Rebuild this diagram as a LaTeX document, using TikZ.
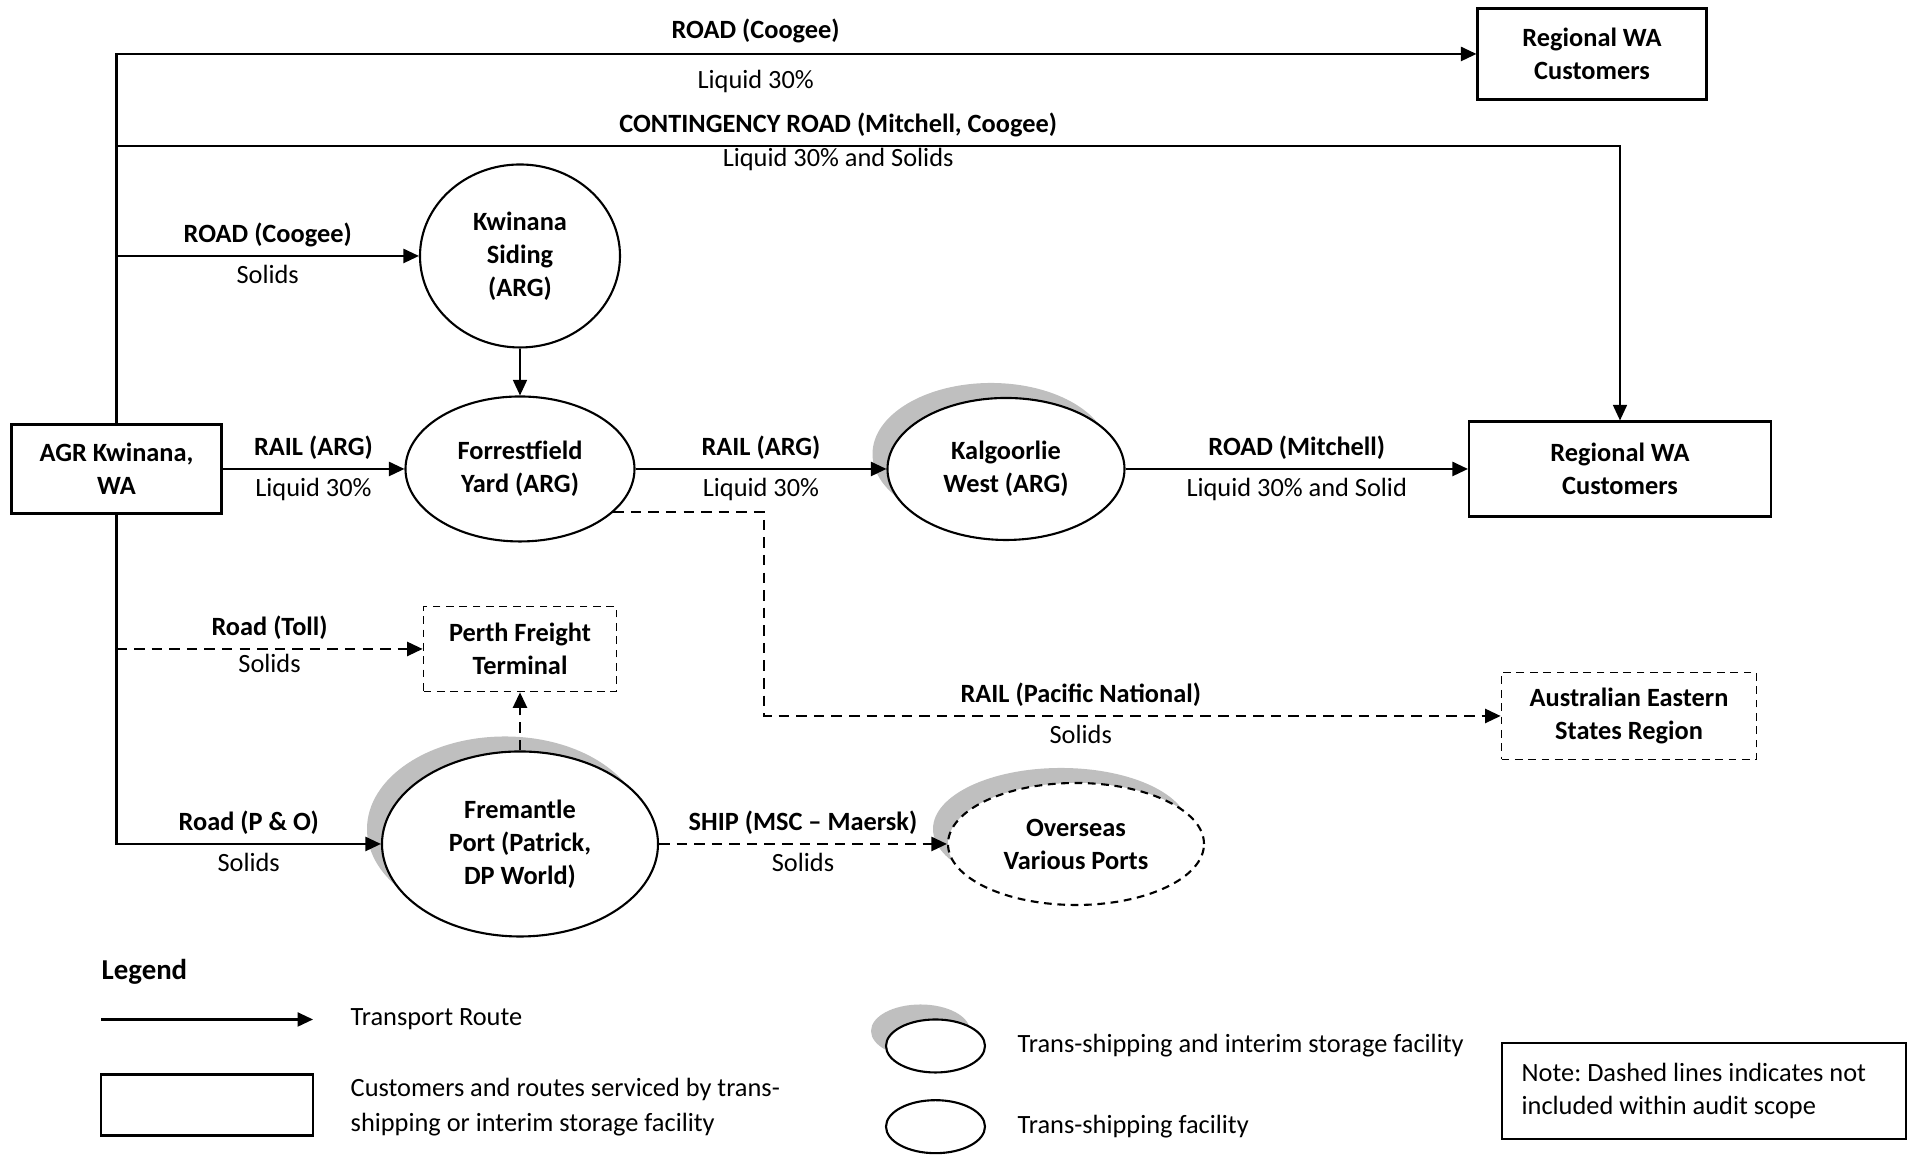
\documentclass[tikz,border=0pt]{standalone}
\usepackage{fontspec}
\setmainfont{Carlito}
\usetikzlibrary{arrows.meta,shapes.geometric,shadows,positioning}

\definecolor{shadowgray}{RGB}{191,191,191}
\newcommand{\dgmfont}{\fontsize{7.5}{9.4}\selectfont}
\frenchspacing

\tikzset{
  >={Triangle[length=4.4pt,width=4pt]},
  route/.style={->,line width=0.6pt},
  thinroute/.style={->,line width=0.4pt},
  oosroute/.style={->,line width=0.6pt,dash pattern=on 3pt off 2pt},
  site/.style={draw,line width=0.6pt,align=center,inner sep=0pt,font=\dgmfont\bfseries},
  oossite/.style={site,line width=0.5pt,dash pattern=on 2.2pt off 1.6pt},
  facility/.style={ellipse,draw,line width=0.6pt,fill=white,align=center,inner sep=0pt,font=\dgmfont\bfseries},
  storage/.style={facility,drop shadow={shadow xshift=-1.5mm,shadow yshift=1.5mm,fill=shadowgray,opacity=1}},
  lblup/.style={midway,above=2pt,inner sep=0pt,text height=5.5pt,text depth=1.5pt,font=\dgmfont\bfseries},
  lbldn/.style={midway,below=2pt,inner sep=0pt,text height=5.5pt,text depth=1.5pt,font=\dgmfont},
  legtext/.style={anchor=west,inner sep=0pt,align=left,font=\dgmfont}
}

\begin{document}
\begin{tikzpicture}
\useasboundingbox (0,0) rectangle (19.1,11.56);

% sites and facilities
\node[site,minimum width=2.1cm,minimum height=0.89cm] (agr) at (1.165,6.87) {AGR Kwinana,\\WA};
\node[site,minimum width=2.29cm,minimum height=0.91cm] (regtop) at (15.92,11.02) {Regional WA\\Customers};
\node[site,minimum width=3.02cm,minimum height=0.95cm] (regmid) at (16.2,6.87) {Regional WA\\Customers};
\node[facility,minimum width=2.0cm,minimum height=1.83cm] (kwin) at (5.2,9.0) {Kwinana\\Siding\\(ARG)};
\node[facility,minimum width=2.29cm,minimum height=1.45cm] (forr) at (5.2,6.87) {Forrestfield\\Yard (ARG)};
\node[storage,minimum width=2.37cm,minimum height=1.42cm] (kalg) at (10.06,6.87) {Kalgoorlie\\West (ARG)};
\node[oossite,minimum width=1.93cm,minimum height=0.85cm] (perth) at (5.2,5.07) {Perth Freight\\Terminal};
\node[oossite,minimum width=2.55cm,minimum height=0.87cm] (aus) at (16.29,4.4) {Australian Eastern\\States Region};
\node[storage,minimum width=2.76cm,minimum height=1.85cm] (frem) at (5.2,3.12) {Fremantle\\Port (Patrick,\\DP World)};
\node[storage,dash pattern=on 2.2pt off 1.6pt,minimum width=2.56cm,minimum height=1.22cm] (over) at (10.76,3.12) {Overseas\\Various Ports};

\coordinate (trunktop) at (agr.north |- regtop.west);
\coordinate (trunkbot) at (agr.south |- frem.west);
\coordinate (contL) at (1.165,10.1);
\coordinate (contR) at (regmid.north |- contL);
\coordinate (pnbend) at (7.64,4.4);

% routes
\draw[route] (agr.north) -- (trunktop) -- node[lblup,above=2.7pt,pos=.47] (lroad1) {ROAD (Coogee)}
  node[lbldn,below=4pt,pos=.47] (lliq1) {Liquid 30\%} (regtop.west);
\draw[thinroute] (contL) -- node[lblup,pos=.48] (lcont) {CONTINGENCY ROAD (Mitchell, Coogee)}
  node[lbldn,below=0pt,pos=.48] (lcontliq) {Liquid 30\% and Solids} (contR) -- (regmid.north);
\draw[route] (agr.north |- kwin.west) -- node[lblup] (lroad2) {ROAD (Coogee)} node[lbldn] (lsol1) {Solids} (kwin.west);
\draw[thinroute] (kwin.south) -- (forr.north);
\draw[route] (agr.east) -- node[lblup] (lrail1) {RAIL (ARG)} node[lbldn] (lliq2) {Liquid 30\%} (forr.west);
\draw[route] (forr.east) -- node[lblup] (lrail2) {RAIL (ARG)} node[lbldn] (lliq3) {Liquid 30\%} (kalg.west);
\draw[route] (kalg.east) -- node[lblup] (lroad3) {ROAD (Mitchell)} node[lbldn] (lliq4) {Liquid 30\% and Solid} (regmid.west);
\draw[oosroute] (forr.-25) -| (pnbend) -- node[lblup,pos=.43] (lrail3) {RAIL (Pacific National)}
  node[lbldn,pos=.43] (lsol2) {Solids} (aus.west);
\draw[oosroute] (agr.south |- perth.west) -- node[lblup] (ltoll) {Road (Toll)} node[lbldn,below=1pt] (lsol3) {Solids} (perth.west);
\draw[oosroute] (frem.north) -- (perth.south);
\draw[route] (agr.south) -- (trunkbot) -- node[lblup] (lpo) {Road (P \& O)} node[lbldn] (lsol4) {Solids} (frem.west);
\draw[oosroute] (frem.east) -- node[lblup] (lship) {SHIP (MSC -- Maersk)} node[lbldn] (lsol5) {Solids} (over.west);

% legend
\node[anchor=west,inner sep=0pt,font=\fontsize{8.2}{10}\selectfont\bfseries] (legtitle) at (1.01,1.84) {Legend};
\coordinate (legA) at (1.01,1.365);
\coordinate (legB) at (3.13,1.365);
\draw[route] (legA) -- (legB);
\node[legtext] (legroute) at (3.5,1.365) {Transport Route};
\node[site,minimum width=2.12cm,minimum height=0.61cm] (legbox) at (2.07,0.51) {};
\node[legtext,font=\fontsize{7.5}{9.8}\selectfont] (legcust) at (3.5,0.49) {Customers and routes serviced by trans-\\shipping or interim storage facility};
\node[storage,minimum width=0.99cm,minimum height=0.53cm] (legstore) at (9.355,1.1) {};
\node[facility,minimum width=0.99cm,minimum height=0.53cm] (legtrans) at (9.355,0.293) {};
\node[legtext] (legstoretxt) at (10.17,1.1) {Trans-shipping and interim storage facility};
\node[legtext] (legtranstxt) at (10.17,0.293) {Trans-shipping facility};
\node[draw,line width=0.6pt,minimum width=4.04cm,minimum height=0.96cm,font=\dgmfont] (note) at (17.04,0.65) {};
\node[legtext] (notetxt) at ([xshift=0.2cm]note.west) {Note: Dashed lines indicates not\\included within audit scope};
\end{tikzpicture}
\end{document}
